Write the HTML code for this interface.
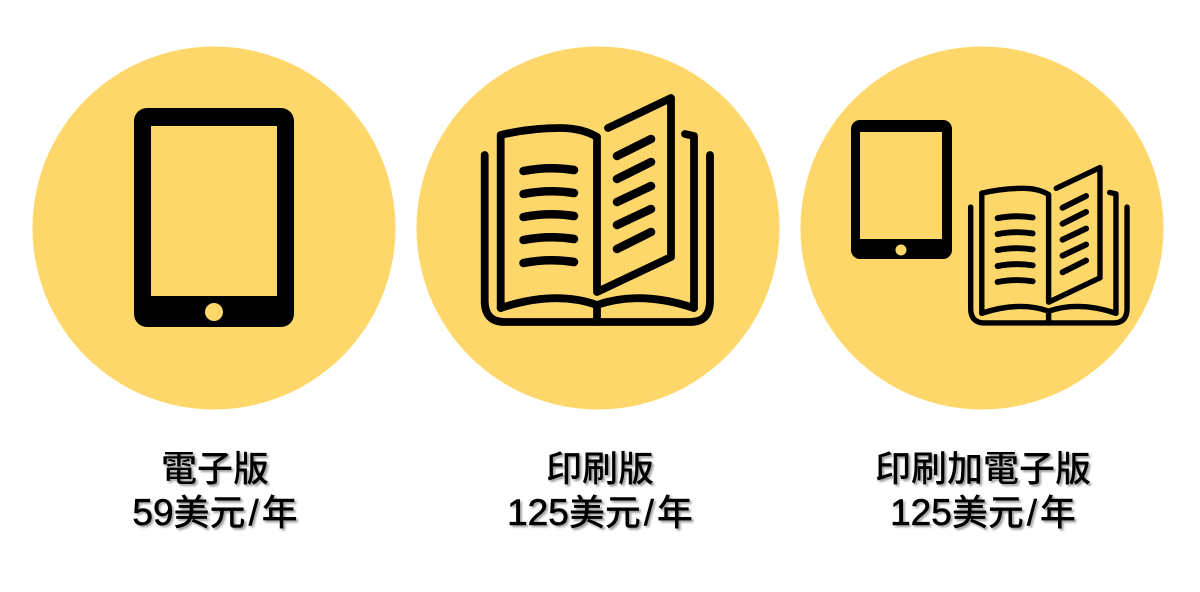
<!DOCTYPE html>
<html lang="zh-Hant">
<head>
<meta charset="utf-8">
<title>Subscription plans</title>
<style>
html,body{margin:0;padding:0;background:#fff;}
#stage{position:relative;width:1200px;height:592px;overflow:hidden;background:#fff;}
#stage svg{position:absolute;left:0;top:0;}
.label{position:absolute;width:384px;text-align:center;font-family:"Liberation Sans","Noto Sans CJK TC",sans-serif;font-size:36px;font-weight:500;color:#000;line-height:44px;text-shadow:2px 2px 2px rgba(0,0,0,.4);white-space:nowrap;}
.line{display:block;}
.num{font-size:37px;-webkit-text-stroke:.6px #000;}
.slash{padding:0 3px;-webkit-text-stroke:.5px #000;}
</style>
</head>
<body>
<div id="stage">
<svg width="1200" height="592" viewBox="0 0 1200 592">
  <defs>
    <g id="book" fill="none" stroke="#000" stroke-width="7.8" stroke-linecap="round" stroke-linejoin="round">
      <path d="M484.7 155V301Q484.7 322 505 322H690Q710 322 710 301V155"/>
      <path d="M500.7 308V135Q530 128 560 128Q582 128 597 137V292L671 257V98L608 128"/>
      <path d="M685 134L694 136V308"/>
      <path d="M500.7 308Q555 290 597 305Q640 290 694 308"/>
      <path d="M597 305V322"/>
      <g stroke-width="8.5">
        <path d="M523.5 171Q549 166 574 170"/>
        <path d="M523.5 194Q549 189 574 193"/>
        <path d="M523.5 217Q549 212 574 216"/>
        <path d="M523.5 240Q549 235 574 239"/>
        <path d="M523.5 263Q549 258 574 262"/>
        <path d="M617 156L651 139"/>
        <path d="M617 179L651 162"/>
        <path d="M617 202L651 186"/>
        <path d="M617 225L651 209"/>
        <path d="M617 249L651 232"/>
      </g>
    </g>
  </defs>
  <circle cx="214" cy="228" r="181.5" fill="#fdd76a"/>
  <circle cx="598" cy="228" r="181.5" fill="#fdd76a"/>
  <circle cx="982" cy="228" r="181.5" fill="#fdd76a"/>

  <g>
    <rect x="134" y="108" width="160" height="219" rx="13" fill="#000"/>
    <rect x="151" y="126" width="126" height="170" fill="#fdd76a"/>
    <circle cx="214" cy="312" r="9" fill="#fdd76a"/>
  </g>

  <use href="#book"/>

  <g>
    <rect x="851" y="120" width="101" height="139" rx="9" fill="#000"/>
    <rect x="860" y="132" width="82" height="107" fill="#fdd76a"/>
    <circle cx="901" cy="250" r="5.5" fill="#fdd76a"/>
  </g>

  <g transform="translate(634.3 99.5) scale(.694)">
    <use href="#book"/>
  </g>
</svg>

<div class="label" style="left:23px;top:447px">
  <span class="line">電子版</span>
  <span class="line"><span class="num">59</span>美元<span class="slash">/</span>年</span>
</div>
<div class="label" style="left:408px;top:447px">
  <span class="line">印刷版</span>
  <span class="line"><span class="num">125</span>美元<span class="slash">/</span>年</span>
</div>
<div class="label" style="left:791px;top:447px">
  <span class="line">印刷加電子版</span>
  <span class="line"><span class="num">125</span>美元<span class="slash">/</span>年</span>
</div>
</div>
</body>
</html>
